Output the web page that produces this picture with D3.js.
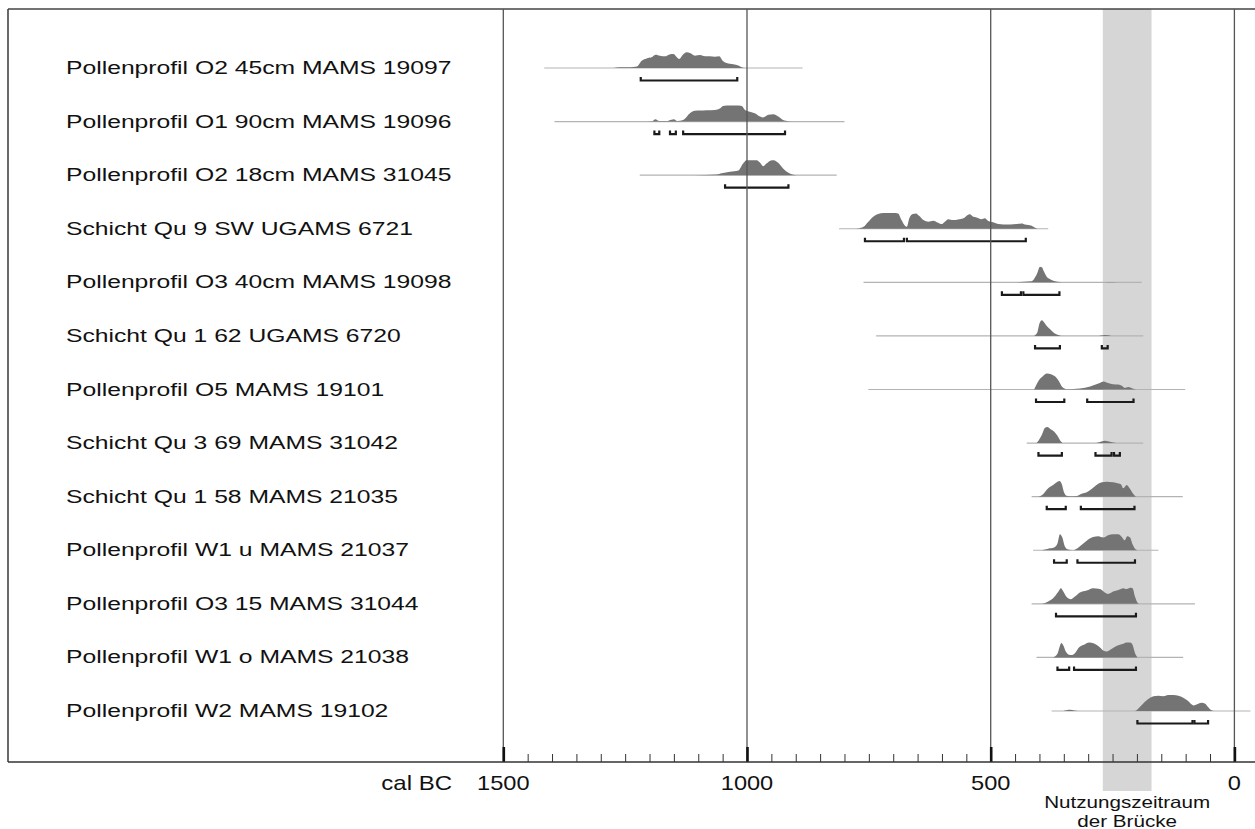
<!DOCTYPE html>
<html>
<head>
<meta charset="utf-8">
<script src="https://cdn.jsdelivr.net/npm/d3@7/dist/d3.min.js"></script>
<style>
  html, body { margin: 0; padding: 0; background: #fff; }
  svg { display: block; }
  text { font-family: "Liberation Sans", Arial, sans-serif; fill: #111; }
</style>
</head>
<body>
<svg id="chart" width="1255" height="829"></svg>
<script>
// Sample names (one row each, top to bottom)
const samples = [
  "Pollenprofil O2 45cm MAMS 19097",
  "Pollenprofil O1 90cm MAMS 19096",
  "Pollenprofil O2 18cm MAMS 31045",
  "Schicht Qu 9 SW UGAMS 6721",
  "Pollenprofil O3 40cm MAMS 19098",
  "Schicht Qu 1 62 UGAMS 6720",
  "Pollenprofil O5 MAMS 19101",
  "Schicht Qu 3 69 MAMS 31042",
  "Schicht Qu 1 58 MAMS 21035",
  "Pollenprofil W1 u MAMS 21037",
  "Pollenprofil O3 15 MAMS 31044",
  "Pollenprofil W1 o MAMS 21038",
  "Pollenprofil W2 MAMS 19102"
];

// Calibrated probability per sample: [year cal BC, relative probability]
const pdfO2_45 = [[1274,0],[1261,4],[1240,5],[1226,10],[1216,46],[1206,60],[1196,67],[1187,83],[1179,77],[1168,73],[1159,85],[1151,87],[1144,67],[1139,56],[1132,81],[1124,98],[1116,92],[1107,77],[1096,81],[1086,73],[1076,73],[1066,71],[1057,73],[1050,46],[1042,31],[1028,23],[1018,15],[1008,2],[1000,0]];
const pdfO1_90 = [[1213,0],[1195,2],[1188,15],[1180,4],[1165,4],[1155,12],[1150,15],[1143,4],[1131,10],[1117,52],[1107,67],[1096,69],[1083,71],[1066,73],[1055,83],[1049,98],[1035,100],[1021,100],[1011,98],[1004,73],[994,62],[984,52],[973,31],[967,25],[956,42],[946,46],[936,31],[926,10],[915,2],[905,0]];
const pdfO2_18 = [[1110,0],[1062,4],[1052,12],[1035,21],[1018,29],[1008,73],[1001,94],[980,94],[973,77],[967,56],[960,73],[951,92],[945,94],[936,77],[926,42],[915,15],[905,2],[898,0]];
const pdfQu9 = [[780,0],[772,2],[761,12],[751,44],[741,75],[731,92],[720,98],[700,98],[690,96],[683,54],[676,19],[672,12],[667,65],[660,92],[653,96],[647,81],[638,54],[628,44],[618,50],[608,37],[601,29],[594,44],[587,60],[577,54],[567,58],[556,65],[548,85],[543,90],[536,75],[529,71],[519,60],[512,65],[505,48],[495,40],[484,29],[474,27],[460,27],[447,29],[436,33],[430,27],[423,23],[416,19],[409,6],[404,0]];
const pdfO3_40 = [[460,0],[416,6],[409,31],[404,62],[399,98],[395,94],[391,69],[385,35],[378,19],[368,6],[358,2],[351,0],[275,0],[260,2],[240,0]];
const pdfQu1_62 = [[411,0],[407,10],[404,25],[400,77],[395,98],[391,87],[385,62],[378,42],[370,19],[361,6],[354,0],[279,0],[266,6],[252,0]];
const pdfO5 = [[411,0],[406,31],[400,62],[393,83],[385,100],[375,94],[367,79],[360,52],[353,15],[344,2],[317,6],[296,19],[279,37],[268,50],[259,40],[249,33],[238,31],[231,23],[225,10],[218,15],[209,6],[202,0]];
const pdfQu3_69 = [[406,0],[401,19],[395,52],[389,94],[384,100],[377,87],[370,73],[363,46],[356,10],[351,0],[286,0],[266,15],[249,4],[235,0]];
const pdfQu1_58 = [[402,0],[392,17],[382,52],[372,73],[363,94],[359,98],[354,77],[350,31],[344,6],[334,2],[324,4],[313,19],[303,27],[293,48],[283,73],[272,90],[262,94],[249,90],[242,85],[233,77],[228,52],[221,73],[214,48],[207,15],[202,0]];
const pdfW1u = [[395,0],[382,10],[370,17],[363,42],[358,100],[353,79],[348,25],[341,4],[331,0],[320,17],[310,42],[300,67],[290,83],[279,87],[269,79],[259,94],[249,100],[238,100],[231,83],[225,62],[220,87],[214,79],[209,37],[204,10],[199,0]];
const pdfO3_15 = [[395,0],[382,15],[372,35],[361,77],[356,98],[351,77],[344,42],[336,29],[327,46],[317,71],[303,83],[290,98],[276,92],[266,71],[259,62],[249,77],[238,87],[228,98],[221,92],[214,100],[209,98],[204,46],[199,8],[195,0]];
const pdfW1o = [[372,0],[363,23],[359,62],[355,90],[351,75],[346,37],[339,17],[333,15],[326,31],[319,62],[309,79],[298,94],[288,87],[278,69],[269,44],[262,37],[254,50],[244,69],[235,79],[228,85],[222,94],[214,94],[209,79],[204,27],[199,0]];
const pdfW2 = [[351,0],[337,8],[320,0],[204,0],[194,25],[180,67],[166,92],[156,96],[146,92],[136,100],[125,100],[115,96],[105,83],[95,62],[84,35],[74,46],[67,52],[60,46],[54,25],[47,4],[42,0]];

const densities = [pdfO2_45, pdfO1_90, pdfO2_18, pdfQu9, pdfO3_40, pdfQu1_62, pdfO5,
                   pdfQu3_69, pdfQu1_58, pdfW1u, pdfO3_15, pdfW1o, pdfW2];

// Extent of the calibration curve window per sample [from, to] (negative = AD)
const curveWindow = [[1416,886],[1395,800],[1220,816],[811,382],[761,190],[735,187],[751,101],
                     [426,187],[416,106],[413,156],[416,81],[406,105],[375,-33]];

// 95.4% ranges per sample
const ranges = [
  [[1218,1020]],
  [[1190,1180],[1158,1146],[1131,922]],
  [[1045,915]],
  [[758,678],[672,428]],
  [[477,438],[433,359]],
  [[409,358],[272,260]],
  [[407,349],[302,207]],
  [[402,354],[285,252],[247,235]],
  [[385,346],[315,205]],
  [[370,344],[322,204]],
  [[366,202]],
  [[363,339],[329,202]],
  [[199,86],[82,54]]
];

// Axis
const majorTicks = [1500, 1000, 500, 0];
const minorTicks = d3.range(0, 1501, 50);
const axisTitle = "cal BC";

// Period of use of the bridge
const bridgePeriod = [270, 170];
const bridgeLabel = ["Nutzungszeitraum", "der Brücke"];

// ---------------- drawing ----------------
const svg = d3.select("#chart");
const frameLeft = 8, frameTop = 9, frameRight = 1255, axisY = 762;

const x = d3.scaleLinear().domain([1500, 0]).range([503.3, 1234.4]);
const y = d3.scalePoint().domain(samples).range([66, 709]);
const h = d3.scaleLinear().domain([0, 100]).range([0, 16]);

// bridge band
svg.append("rect")
  .attr("x", x(bridgePeriod[0])).attr("width", x(bridgePeriod[1]) - x(bridgePeriod[0]))
  .attr("y", frameTop).attr("height", 791 - frameTop)
  .attr("fill", "#d6d6d6");

// frame
svg.append("line").attr("x1", frameLeft).attr("x2", frameRight).attr("y1", frameTop).attr("y2", frameTop)
  .attr("stroke", "#444").attr("stroke-width", 1.6);
svg.append("line").attr("x1", frameLeft).attr("x2", frameLeft).attr("y1", frameTop).attr("y2", axisY)
  .attr("stroke", "#444").attr("stroke-width", 1.6);

// row groups
const rows = svg.append("g").selectAll("g").data(samples).join("g")
  .attr("transform", d => `translate(0,${y(d)})`);

// sample labels
rows.append("text")
  .attr("transform", "translate(66,8) scale(1.3,1)")
  .style("font-size", "19px")
  .text(d => d);

// each plot sits slightly below the label centre
const plots = rows.append("g").attr("transform", "translate(0,2)");

// calibration window line
plots.append("line")
  .attr("x1", (d, i) => x(curveWindow[i][0]))
  .attr("x2", (d, i) => x(curveWindow[i][1]))
  .attr("stroke", "#b3b3b3").attr("stroke-width", 1.2);

// probability areas
const area = d3.area()
  .x(d => x(d[0]))
  .y0(0)
  .y1(d => -h(d[1]))
  .curve(d3.curveMonotoneX);

plots.append("path")
  .attr("d", (d, i) => area(densities[i]))
  .attr("fill", "#747474");

// range brackets
plots.each(function(d, i) {
  d3.select(this).selectAll("path.range").data(ranges[i]).join("path")
    .attr("class", "range")
    .attr("d", r => `M${x(r[0])},9 V12.5 H${x(r[1])} V9`)
    .attr("fill", "none")
    .attr("stroke", "#1a1a1a")
    .attr("stroke-width", 2.2);
});

// gridlines at major ticks
svg.append("g").selectAll("line").data(majorTicks).join("line")
  .attr("x1", d => x(d)).attr("x2", d => x(d))
  .attr("y1", frameTop).attr("y2", axisY)
  .attr("stroke", "#555").attr("stroke-width", 1.3);

// axis: minor and major ticks pointing up
const minorAxis = d3.axisTop(x).tickValues(minorTicks).tickSize(8).tickFormat("");
const majorAxis = d3.axisTop(x).tickValues(majorTicks).tickSize(15).tickFormat("");
svg.append("g").attr("transform", `translate(0,${axisY})`).call(minorAxis)
  .call(g => g.select(".domain").remove())
  .selectAll("line").attr("stroke", "#333").attr("stroke-width", 1);
svg.append("g").attr("transform", `translate(0,${axisY})`).call(majorAxis)
  .call(g => g.select(".domain").remove())
  .selectAll("line").attr("stroke", "#111").attr("stroke-width", 2.6);

svg.append("line").attr("x1", frameLeft).attr("x2", frameRight).attr("y1", axisY).attr("y2", axisY)
  .attr("stroke", "#333").attr("stroke-width", 1.6);

// tick labels
svg.append("g").selectAll("text").data(majorTicks).join("text")
  .attr("transform", d => `translate(${x(d)},790) scale(1.18,1)`)
  .attr("text-anchor", "middle")
  .style("font-size", "20px")
  .text(d => d);

svg.append("text")
  .attr("transform", "translate(452,790) scale(1.2,1)")
  .attr("text-anchor", "end")
  .style("font-size", "20px")
  .text(axisTitle);

// band label
svg.append("g").selectAll("text").data(bridgeLabel).join("text")
  .attr("transform", (d, i) => `translate(${(x(bridgePeriod[0]) + x(bridgePeriod[1])) / 2},${808 + i * 18.5}) scale(1.25,1)`)
  .attr("text-anchor", "middle")
  .style("font-size", "16.5px")
  .text(d => d);
</script>
</body>
</html>
